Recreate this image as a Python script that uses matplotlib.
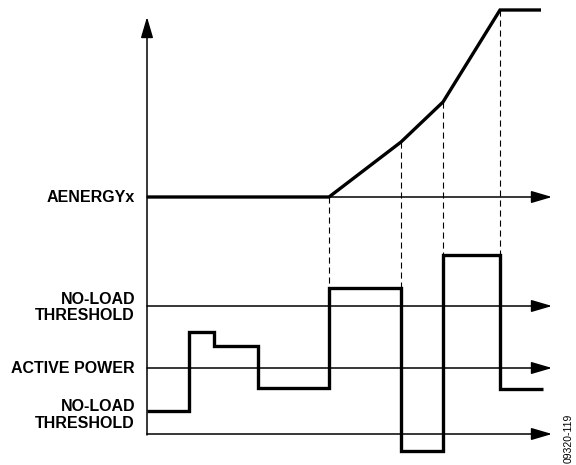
import matplotlib.pyplot as plt
import numpy as np

plt.rcParams['font.family'] = ['Liberation Sans', 'DejaVu Sans']

# schematic in pixel-like units (x to the right, y downward)
axis_x = 147
axis_end = 552
axis_top = 17
axis_bottom = 435

# horizontal reference lines: y level and label
line_y = [197, 306, 368, 434]
labels = ['AENERGYx', 'NO-LOAD\nTHRESHOLD', 'ACTIVE POWER', 'NO-LOAD\nTHRESHOLD']
label_y = [197, 307.5, 368, 415]

# accumulated energy
energy_t = [147, 329, 401, 443, 500, 541]
energy_v = [197, 197, 142, 102, 10, 10]

# active power (step signal): switching times and levels
power_t = [147, 189, 214, 258, 329, 401, 443, 500, 543]
power_v = [411, 332, 346, 388, 288, 451, 255, 389]

# dashed markers: time, from energy value down to power level
mark_t = [329, 401, 443, 500]
mark_top = [197, 142, 102, 10]
mark_bot = [288, 288, 255, 255]

fig = plt.figure(figsize=(5.76, 4.65), dpi=100)
ax = fig.add_axes([0, 0, 1, 1])
ax.set_xlim(0, 576)
ax.set_ylim(465, 0)
ax.axis('off')

arrow = dict(arrowstyle='-|>,head_length=0.85,head_width=0.25', lw=1.1,
             color='k', mutation_scale=15, shrinkA=0, shrinkB=0)

# vertical axis
ax.annotate('', xy=(axis_x, axis_top), xytext=(axis_x, axis_bottom), arrowprops=arrow)
# horizontal axes
for y in line_y:
    ax.annotate('', xy=(axis_end, y), xytext=(axis_x, y), arrowprops=arrow)

for txt, y in zip(labels, label_y):
    ax.text(135, y, txt, ha='right', va='center', fontsize=11.5,
            fontweight='bold', linespacing=1.15, multialignment='right')

# dashed lines
for t, a, b in zip(mark_t, mark_top, mark_bot):
    ax.plot([t, t], [a, b], color='k', lw=0.8, dashes=(5.5, 3.5))

# energy curve
ax.plot(energy_t, energy_v, color='k', lw=2.4, solid_joinstyle='miter',
        solid_capstyle='butt')

# power step signal
ax.stairs(power_v, power_t, baseline=None, color='k', lw=2.4)

ax.text(569, 463, '09320-119', rotation=90, ha='center', va='bottom',
        fontsize=7.5)

fig.savefig('out.png', dpi=100)
